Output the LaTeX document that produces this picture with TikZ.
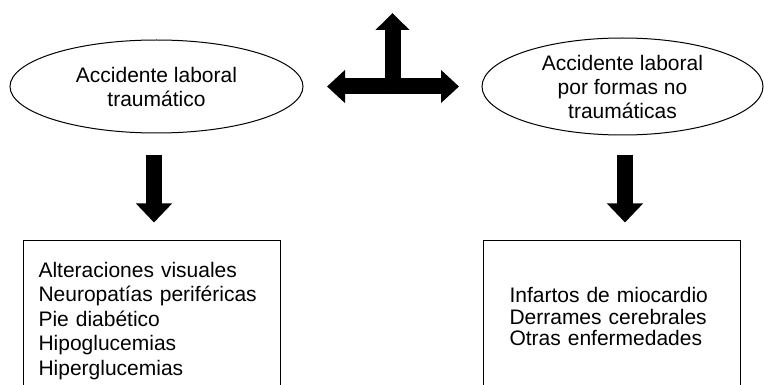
\documentclass[tikz,border=0pt]{standalone}
\usepackage{fontspec}
\setmainfont{Liberation Sans}
\usetikzlibrary{arrows.meta,shapes.geometric,calc}

\begin{document}
\begin{tikzpicture}[x=1pt,y=-1pt,
        tipo/.style={draw,ellipse,line width=1pt,inner sep=0pt,align=center,
          font=\fontsize{21pt}{24pt}\selectfont},
        lista/.style={draw,rectangle,line width=1pt,anchor=north west,align=left,
          minimum width=257pt},
        bloque/.style={line width=16pt,-{Triangle[width=35pt,length=19pt]}}]

        \useasboundingbox (0,0) rectangle (764,385);
        \clip (0,0) rectangle (764,385);

        \node[tipo,minimum width=293pt,minimum height=93pt] (trauma) at (156.5,86.5) {Accidente laboral\\traumático};
        \node[tipo,minimum width=281pt,minimum height=97pt] (notrauma) at (622.5,86.5) {Accidente laboral\\por formas no\\traumáticas};

        \node[lista,minimum height=161pt,text width=227pt,inner xsep=15pt,
          font=\fontsize{21pt}{24.5pt}\selectfont] (listatrauma) at (23,240)
          {Alteraciones visuales\\Neuropatías periféricas\\Pie diabético\\Hipoglucemias\\Hiperglucemias};
        \node[lista,minimum height=152pt,text width=205pt,inner xsep=26pt,
          font=\fontsize{21pt}{21.7pt}\selectfont] (listanotrauma) at (483,240)
          {Infartos de miocardio\\Derrames cerebrales\\Otras enfermedades};

        \coordinate (cruce) at ($(trauma.east)!0.5!(notrauma.west)$);
        \coordinate (arriba) at (392.5,13);

        \draw [line width=16pt,{Triangle[width=32pt,length=18pt]}-{Triangle[width=32pt,length=18pt]},
          shorten <=23.5pt,shorten >=22.5pt] (trauma.east) -- (notrauma.west);
        \draw [line width=16pt,-{Triangle[width=33pt,length=17pt]}] ([yshift=-8pt]cruce) -- (cruce |- arriba);

        \draw [bloque,shorten <=21.5pt,shorten >=17.5pt] ([xshift=-2.5pt]trauma.south) -- ([xshift=-2.5pt]trauma.south |- listatrauma.north);
        \draw [bloque,shorten <=19.5pt,shorten >=17.5pt] ([xshift=2.5pt]notrauma.south) -- ([xshift=2.5pt]notrauma.south |- listanotrauma.north);
\end{tikzpicture}
\end{document}
